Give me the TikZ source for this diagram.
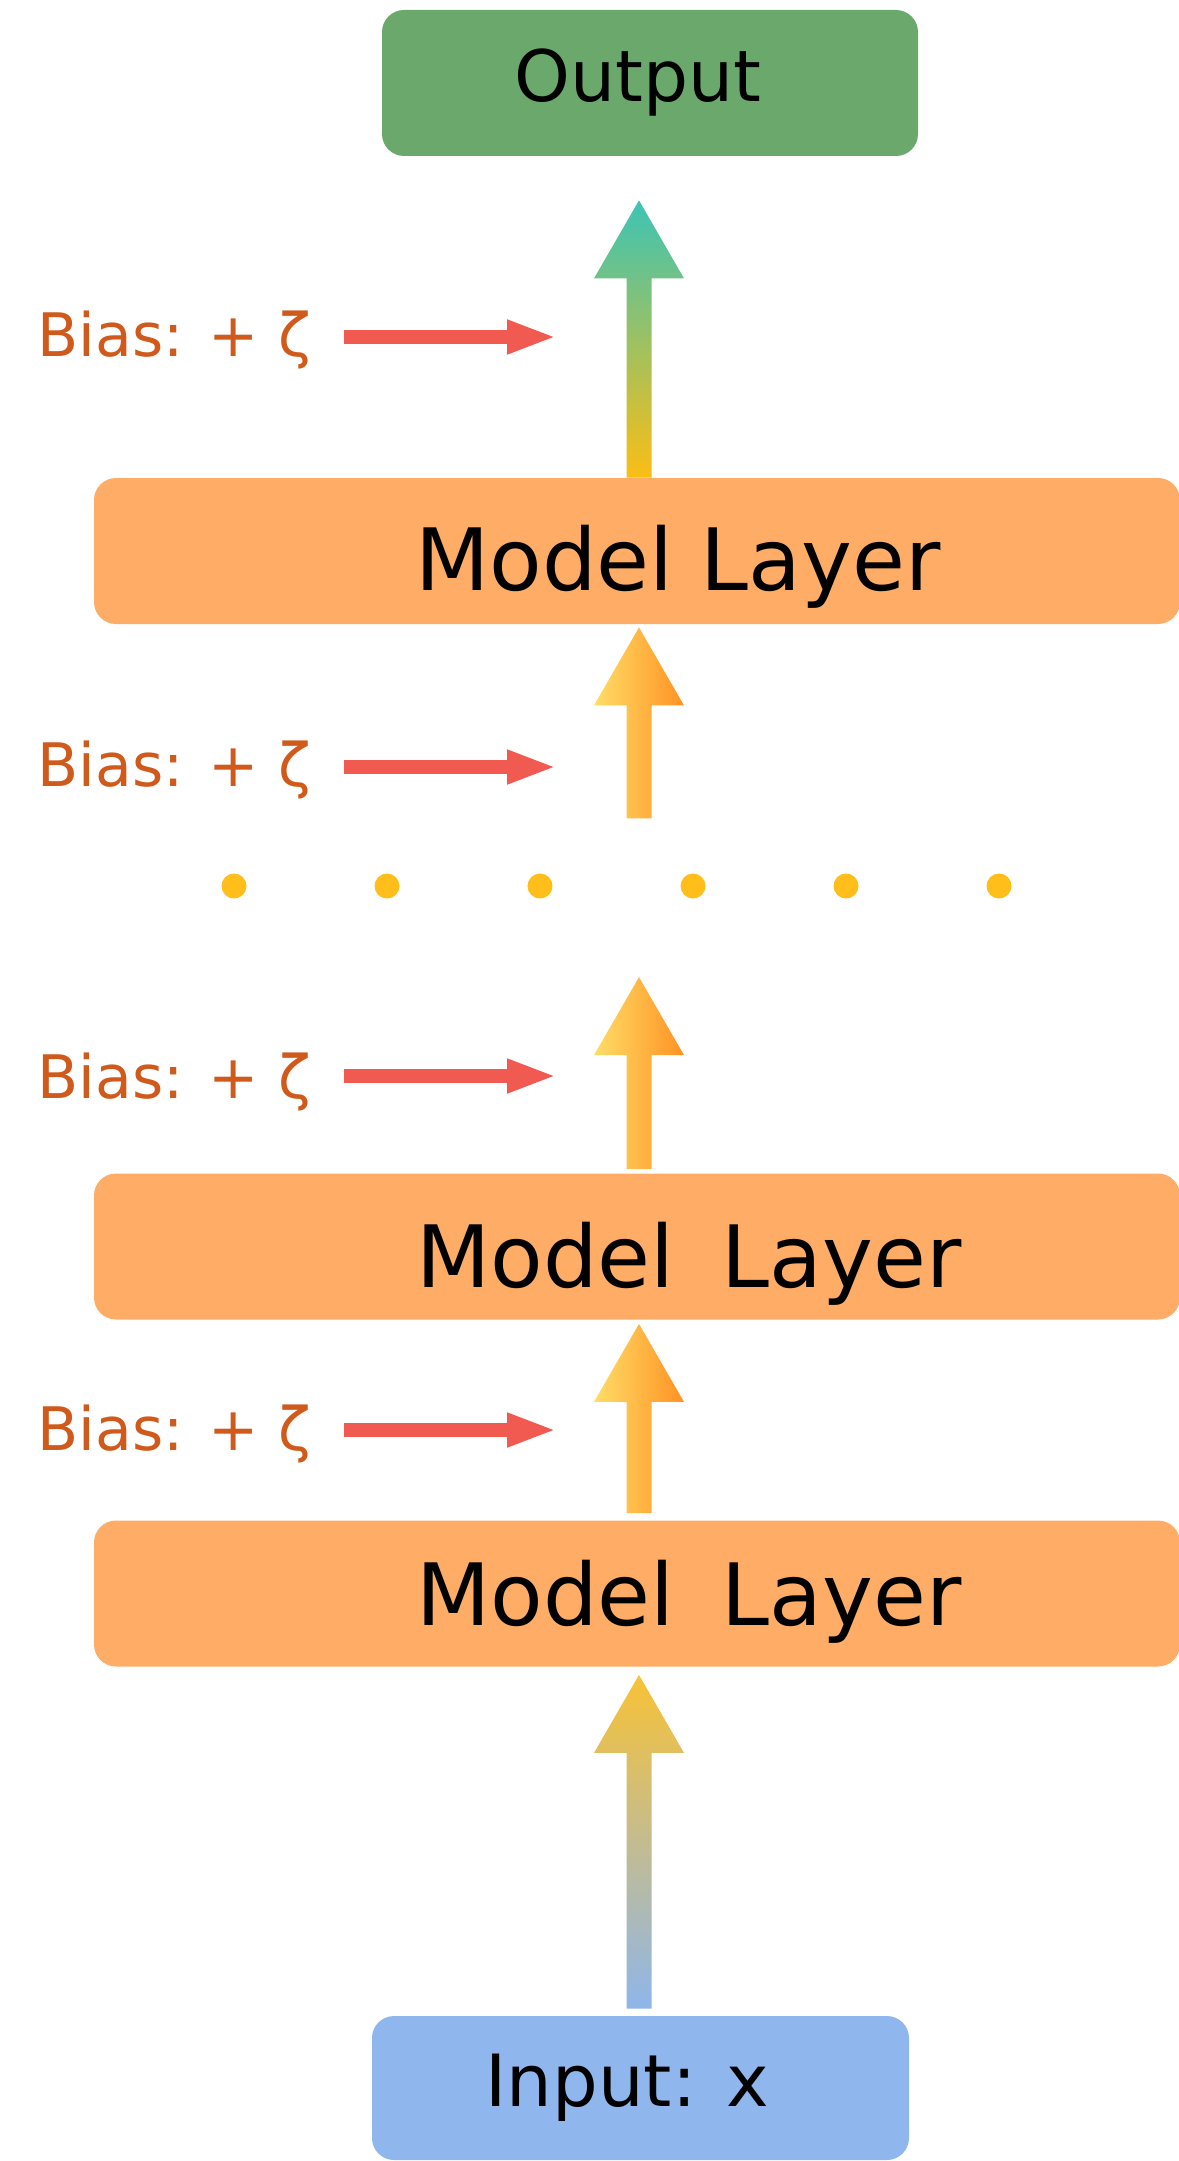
\documentclass[tikz,border=0pt]{standalone}
\usepackage{fontspec}
\setmainfont{DejaVu Sans}
\usetikzlibrary{calc,arrows.meta}
\definecolor{outgreen}{HTML}{6AA96B}
\definecolor{layerorange}{HTML}{FFAD66}
\definecolor{inblue}{HTML}{8FB7EE}
\definecolor{biasred}{HTML}{F05A50}
\definecolor{biastext}{HTML}{D05A1B}
\definecolor{dotyellow}{HTML}{FFBE1A}
\definecolor{tealtop}{HTML}{3CC4B4}
\definecolor{yellowbot}{HTML}{FBBE14}
\definecolor{lightyellow}{HTML}{FFDD66}
\definecolor{deeporange}{HTML}{FF9224}
\definecolor{yellowtop}{HTML}{F8C236}
\definecolor{bluebot}{HTML}{8FB6EA}
\newcommand{\blockarrow}[3]{%
  \shade[#3] ($(#1)+(-12.5,0)$) -- ($(#2)+(-12.5,78)$) -- ($(#2)+(-45,78)$) -- (#2)
    -- ($(#2)+(45,78)$) -- ($(#2)+(12.5,78)$) -- ($(#1)+(12.5,0)$) -- cycle;}
\begin{document}
\begin{tikzpicture}[x=0.5pt,y=-0.5pt,
  boxbase/.style={inner sep=0pt, rounded corners=11pt, text=black},
  outbox/.style={boxbase, fill=outgreen, minimum width=268pt, minimum height=73pt, font=\fontsize{35.5}{42}\selectfont},
  layerbox/.style={boxbase, fill=layerorange, minimum width=543pt, minimum height=73pt},
  layertext/.style={inner sep=0pt, anchor=base, text=black, font=\fontsize{43}{50}\selectfont},
  inbox/.style={boxbase, fill=inblue, minimum width=268.5pt, minimum height=72pt, font=\fontsize{36}{43}\selectfont},
  biaslabel/.style={anchor=west, inner sep=0pt, text=biastext, font=\fontsize{30}{36}\selectfont},
  biasarrow/.style={draw=biasred, line width=7pt, -{Triangle[length=25pt,width=15.5pt]}},
  dotstyle/.style={fill=dotyellow, circle, inner sep=0pt, minimum size=12.5pt}
]
\useasboundingbox (0,0) rectangle (1178,2161);

% boxes
\node[outbox] (out) at (650,83) {\hspace*{-12pt}Output};
\node[layerbox] (L1) at (637,551) {};
\node[layerbox] (L2) at (637,1246.5) {};
\node[layerbox] (L3) at (637,1593.5) {};
\node[inbox] (in) at (640.5,2088) {\hspace*{-13pt}Input: x};

% layer texts (baseline positions)
\node[layertext] (L1t) at (678,590) {Model Layer};
\node[layertext] (L2t) at (689,1287) {Model\hspace{10pt} Layer};
\node[layertext] (L3t) at (689,1625) {Model\hspace{10pt} Layer};

% axis of the block arrows
\coordinate (axis) at (639,0);

% block arrows
\coordinate (a1b) at (L1.north -| axis);
\coordinate (a1t) at ($(out.south -| axis)+(0,44)$);
\blockarrow{a1b}{a1t}{top color=tealtop, bottom color=yellowbot}

\coordinate (a2t) at ($(L1.south -| axis)+(0,3)$);
\coordinate (a2b) at ($(a2t)+(0,191)$);
\blockarrow{a2b}{a2t}{left color=lightyellow, right color=deeporange}

\coordinate (a3b) at ($(L2.north -| axis)+(0,-4)$);
\coordinate (a3t) at ($(a3b)+(0,-192)$);
\blockarrow{a3b}{a3t}{left color=lightyellow, right color=deeporange}

\coordinate (a4b) at ($(L3.north -| axis)+(0,-7)$);
\coordinate (a4t) at ($(L2.south -| axis)+(0,4)$);
\blockarrow{a4b}{a4t}{left color=lightyellow, right color=deeporange}

\coordinate (a5b) at ($(in.north -| axis)+(0,-7)$);
\coordinate (a5t) at ($(L3.south -| axis)+(0,8)$);
\blockarrow{a5b}{a5t}{top color=yellowtop, bottom color=bluebot}

% bias labels and arrows
\node[biaslabel] (b1) at (37,340) {Bias: + ζ};
\node[biaslabel] (b2) at (37,770) {Bias: + ζ};
\node[biaslabel] (b3) at (37,1082) {Bias: + ζ};
\node[biaslabel] (b4) at (37,1434) {Bias: + ζ};
\coordinate (r1s) at (344,337); \coordinate (r1e) at (557,337);
\coordinate (r2s) at (344,767); \coordinate (r2e) at (557,767);
\coordinate (r3s) at (344,1076); \coordinate (r3e) at (557,1076);
\coordinate (r4s) at (344,1430); \coordinate (r4e) at (557,1430);
\draw[biasarrow] (r1s) -- (r1e);
\draw[biasarrow] (r2s) -- (r2e);
\draw[biasarrow] (r3s) -- (r3e);
\draw[biasarrow] (r4s) -- (r4e);

% dots
\foreach \i/\xx in {1/234,2/387,3/540,4/693,5/846,6/999}
  \node[dotstyle] (d\i) at (\xx,886) {};
\end{tikzpicture}
\end{document}
